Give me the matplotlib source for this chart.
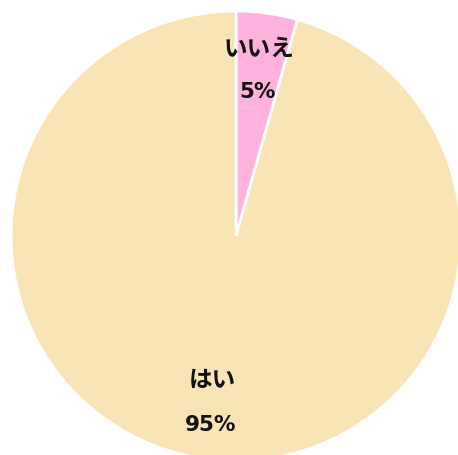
import matplotlib
matplotlib.use("Agg")
import matplotlib.pyplot as plt

labels = ["いいえ", "はい"]
values = [4.4, 95.6]
pct_labels = ["5%", "95%"]
colors = ["#FFB3DC", "#F9E4B6"]
label_pos = [(0.100, 0.835), (-0.107, -0.635)]
pct_pos = [(0.098, 0.645), (-0.111, -0.835)]

plt.rcParams['font.family'] = ['DejaVu Sans', 'Noto Sans CJK JP']

fig = plt.figure(figsize=(4.58, 4.56), dpi=100)
ax = fig.add_axes([11/458, -6/456, 450/458, 450/456])
ax.pie(values, colors=colors, startangle=90, counterclock=False, radius=1,
       wedgeprops=dict(edgecolor="white", linewidth=2))
for lab, pl, lp, pp in zip(labels, pct_labels, label_pos, pct_pos):
    ax.text(lp[0], lp[1], lab, ha="center", va="center", fontsize=17, fontweight="bold", color="#111111")
    ax.text(pp[0], pp[1], pl, ha="center", va="center", fontsize=15.5, fontweight="bold", color="#111111")
ax.set_xlim(-1, 1)
ax.set_ylim(-1, 1)
ax.set_aspect("equal")
ax.axis("off")
fig.savefig("out.png", dpi=100)
